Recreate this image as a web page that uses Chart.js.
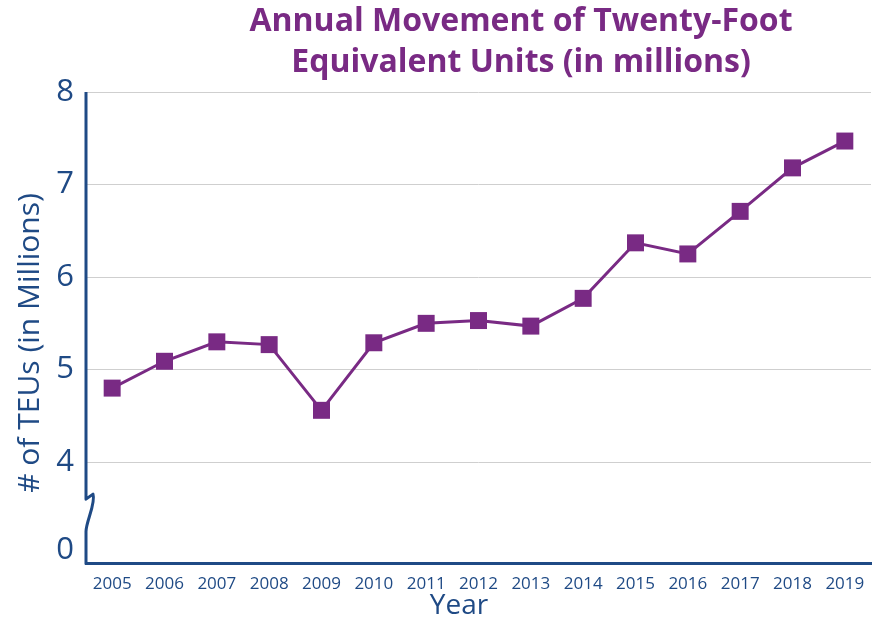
<!DOCTYPE html>
<html>
<head>
<meta charset="utf-8">
<script src="https://cdn.jsdelivr.net/npm/chart.js@4.4.1/dist/chart.umd.min.js"></script>
<style>
  html, body { margin: 0; padding: 0; background: #fff; }
  #wrap { width: 874px; height: 621px; }
</style>
</head>
<body>
<div id="wrap"><canvas id="teu-line-chart"></canvas></div>
<script>
const years = ["2005", "2006", "2007", "2008", "2009", "2010", "2011", "2012", "2013", "2014", "2015", "2016", "2017", "2018", "2019"];
const teus = [4.80, 5.09, 5.30, 5.27, 4.56, 5.29, 5.50, 5.53, 5.47, 5.77, 6.37, 6.25, 6.71, 7.18, 7.47];
// broken axis: the "0" tick sits just under the break
const yTickValues = [3.05, 4, 5, 6, 7, 8];
const yTickLabels = ["0", "4", "5", "6", "7", "8"];
const titleLines = ["Annual Movement of Twenty-Foot", "Equivalent Units (in millions)"];
const yTitle = "# of TEUs (in Millions)";
const xTitle = "Year";

const purple = "#792A84";
const navy = "#1F4A85";

const textPlugin = {
  id: "textPlugin",
  afterDraw(chart) {
    const ctx = chart.ctx;
    ctx.save();
    ctx.textAlign = "center";
    ctx.textBaseline = "middle";
    ctx.fillStyle = purple;
    ctx.font = "bold 32px 'Open Sans'";
    ctx.fillText(titleLines[0], 521, 22);
    ctx.fillText(titleLines[1], 521, 63);

    ctx.fillStyle = navy;
    ctx.font = "28px 'Open Sans'";
    ctx.fillText(xTitle, 459, 606);

    ctx.translate(30, 343);
    ctx.rotate(-Math.PI / 2);
    ctx.font = "30px 'Open Sans'";
    ctx.fillText(yTitle, 0, 0);
    ctx.restore();
  }
};

// left axis line with a break squiggle between 0 and 4
const brokenAxis = {
  id: "brokenAxis",
  afterDraw(chart) {
    const ctx = chart.ctx;
    const area = chart.chartArea;
    const y = chart.scales.y;
    const L = area.left;
    const b1 = y.getPixelForValue(3.6);
    const b2 = y.getPixelForValue(3.25);
    ctx.save();
    ctx.strokeStyle = navy;
    ctx.lineWidth = 3;
    ctx.lineJoin = "round";
    ctx.beginPath();
    ctx.moveTo(L, area.top);
    ctx.lineTo(L, b1);
    ctx.lineTo(L + 7, b1 - 5);
    ctx.bezierCurveTo(L + 10, b1 + 4, L, b2 - 10, L, b2);
    ctx.lineTo(L, area.bottom + 1.5);
    ctx.stroke();
    ctx.restore();
  }
};

new Chart(document.getElementById("teu-line-chart"), {
  type: "line",
  data: {
    labels: years,
    datasets: [{
      data: teus,
      borderColor: purple,
      backgroundColor: purple,
      borderWidth: 3,
      pointStyle: "rect",
      pointRadius: 12,
      pointHoverRadius: 12,
      pointBackgroundColor: purple,
      pointBorderWidth: 0,
      tension: 0
    }]
  },
  options: {
    responsive: true,
    maintainAspectRatio: false,
    animation: false,
    layout: {
      autoPadding: false,
      padding: { top: 92, right: 3, left: 0, bottom: 0 }
    },
    plugins: {
      legend: { display: false },
      tooltip: { enabled: false }
    },
    scales: {
      x: {
        offset: true,
        grid: { color: "transparent", drawTicks: false },
        border: { display: true, color: navy, width: 3 },
        ticks: {
          color: navy,
          font: { family: "'Open Sans'", size: 17 },
          padding: 11,
          maxRotation: 0,
          autoSkip: false
        },
        afterFit(scale) {
          scale.height = 58;
          scale.paddingLeft = 0;
          scale.paddingRight = 0;
        }
      },
      y: {
        min: 2.91,
        max: 8,
        afterBuildTicks(scale) {
          scale.ticks = yTickValues.map(v => ({ value: v }));
        },
        grid: {
          color: (c) => (c.tick && c.tick.value < 4 ? "transparent" : "#cfcfcf"),
          lineWidth: 1,
          drawTicks: false
        },
        border: { display: false },
        ticks: {
          color: navy,
          font: { family: "'Open Sans'", size: 31 },
          padding: 12,
          callback: (value, index) => yTickLabels[index]
        },
        afterFit(scale) { scale.width = 86; }
      }
    }
  },
  plugins: [textPlugin, brokenAxis]
});
</script>
</body>
</html>
